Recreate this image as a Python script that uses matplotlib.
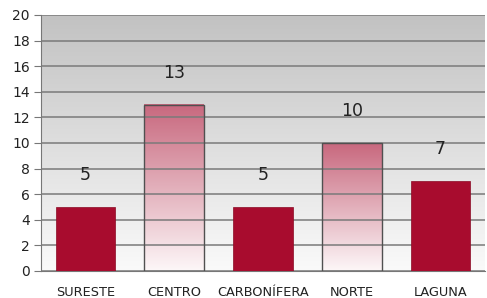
import numpy as np
import matplotlib
matplotlib.use('Agg')
import matplotlib.pyplot as plt
from matplotlib.colors import LinearSegmentedColormap

# data
regions = ['SURESTE', 'CENTRO', 'CARBONÍFERA', 'NORTE', 'LAGUNA']
values = [5, 13, 5, 10, 7]
gradient_bar = [False, True, False, True, False]

fig = plt.figure(figsize=(4.87, 2.98), dpi=100)
ax = fig.add_axes([41/487, 27/298, 444/487, 256/298])

x = np.arange(len(regions))
width = 0.67

# background gradient (gray top -> white bottom)
bg = LinearSegmentedColormap.from_list('bg', ['#fafafa', '#c2c2c2'])
grad = np.linspace(0, 1, 256).reshape(-1, 1)
ax.imshow(grad, cmap=bg, origin='lower', aspect='auto',
          extent=(-0.5, 4.5, 0, 20), zorder=0)

ax.set_yticks(range(0, 21, 2))
ax.yaxis.grid(True, color='#7a7a7a', lw=1.1, zorder=1)
ax.set_axisbelow(False)

barcm = LinearSegmentedColormap.from_list('bar', ['#fdf7f8', '#c8687e'])
for xi, v, g in zip(x, values, gradient_bar):
    if g:
        ax.imshow(grad, cmap=barcm, origin='lower', aspect='auto',
                  extent=(xi - width/2, xi + width/2, 0, v), zorder=2)
        ax.bar(xi, v, width, facecolor='none', edgecolor='#505050', lw=1.0, zorder=3)
    else:
        ax.bar(xi, v, width, color='#a80c2e', edgecolor='#8a0a24', lw=0.5, zorder=3)
    ax.text(xi, v + 2.5, str(v), ha='center', va='center', fontsize=12.5,
            color='#222222', zorder=4)

ax.set_xlim(-0.5, 4.5)
ax.set_ylim(0, 20)
ax.set_xticks(x)
ax.set_xticklabels(regions, fontsize=9.3, color='#222222')
ax.tick_params(axis='x', length=0, pad=11)
ax.tick_params(axis='y', length=5, color='#777777', labelsize=10, labelcolor='#222222', pad=3)
for s in ['top', 'right']:
    ax.spines[s].set_visible(False)
ax.spines['left'].set_color('#777777')
ax.spines['bottom'].set_color('#777777')

fig.savefig('out.png', dpi=100)
